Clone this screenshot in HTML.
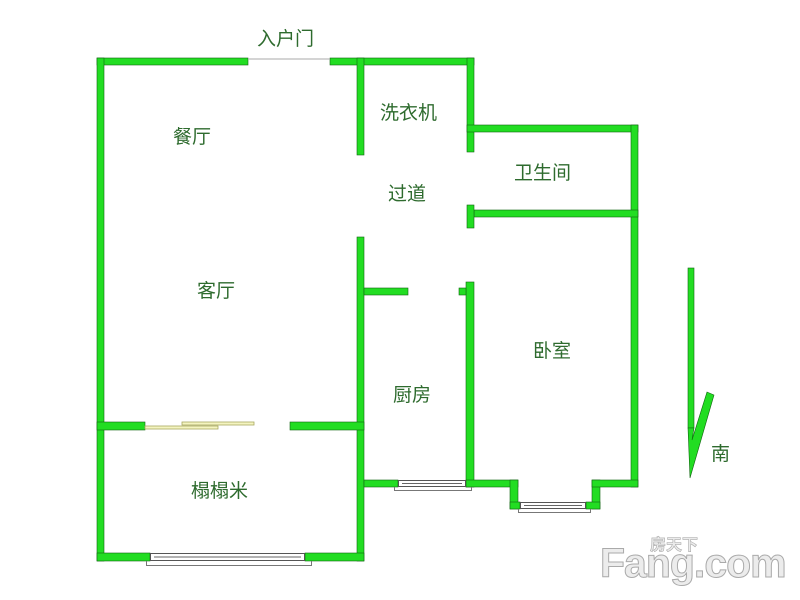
<!DOCTYPE html>
<html><head><meta charset="utf-8"><style>
body{margin:0;background:#fff;}
svg{display:block}
text{font-family:"Liberation Sans","Noto Sans CJK SC",sans-serif;font-size:19px;fill:#2e6b2e;}
</style></head><body>
<svg width="800" height="600" viewBox="0 0 800 600" xmlns="http://www.w3.org/2000/svg">
<g fill="#22dd22" stroke="#116611" stroke-width="0.6">
<rect x="97" y="58" width="151" height="7"/>
<rect x="330" y="58" width="144" height="7"/>
<rect x="97" y="58" width="7" height="503"/>
<rect x="467" y="58" width="7" height="94"/>
<rect x="357" y="58" width="7" height="97"/>
<rect x="467" y="125" width="171" height="7"/>
<rect x="631" y="125" width="7" height="362"/>
<rect x="474" y="210" width="164" height="7"/>
<rect x="467" y="205" width="7" height="23"/>
<rect x="357" y="237" width="7" height="324"/>
<rect x="364" y="288" width="44" height="7"/>
<rect x="466" y="282" width="8" height="205"/>
<rect x="459" y="288" width="7" height="7"/>
<rect x="97" y="422" width="48" height="8"/>
<rect x="290" y="422" width="74" height="8"/>
<rect x="97" y="553" width="53" height="8"/>
<rect x="305" y="553" width="59" height="8"/>
<rect x="364" y="480" width="34" height="7"/>
<rect x="466" y="480" width="52" height="7"/>
<rect x="510" y="480" width="8" height="29"/>
<rect x="510" y="502" width="10" height="7"/>
<rect x="592" y="480" width="8" height="29"/>
<rect x="586" y="502" width="14" height="7"/>
<rect x="592" y="480" width="46" height="7"/>
<rect x="688" y="268" width="6" height="160"/>
<polygon points="688,428 694,428 692,440 707,392 714,395 690,478"/>
</g>
<line x1="248" y1="59" x2="330" y2="59" stroke="#aaa" stroke-width="1"/>
<g fill="#f4f4c0" stroke="#a8a860" stroke-width="0.8">
<rect x="145" y="426" width="73" height="3"/>
<rect x="182" y="422" width="72" height="3"/>
</g>
<g fill="#fff" stroke="#555" stroke-width="1">
<rect x="150.5" y="553.5" width="154" height="7"/>
<rect x="398.5" y="480.5" width="67" height="6"/>
<rect x="520.5" y="502.5" width="65" height="6"/>
</g>
<g stroke="#666" stroke-width="1">
<line x1="154" y1="557" x2="301" y2="557"/>
<line x1="402" y1="483.5" x2="462" y2="483.5"/>
<line x1="524" y1="505.5" x2="582" y2="505.5"/>
</g>
<g stroke="#777" stroke-width="1" fill="none">
<polyline points="146.5,561 146.5,565.5 311.5,565.5 311.5,561"/>
<polyline points="394.5,487 394.5,490.5 471.5,490.5 471.5,487"/>
<polyline points="518.5,509 518.5,512.5 590.5,512.5 590.5,509"/>
</g>
<text x="257" y="45">入户门</text>
<text x="173" y="143">餐厅</text>
<text x="380" y="119">洗衣机</text>
<text x="388" y="200">过道</text>
<text x="514" y="179">卫生间</text>
<text x="197" y="297">客厅</text>
<text x="533" y="357">卧室</text>
<text x="393" y="401">厨房</text>
<text x="191" y="497">榻榻米</text>
<text x="711" y="460">南</text>
<text x="600" y="577" style="font-size:41px;font-weight:bold;fill:#ececec;stroke:#aaa;stroke-width:1;letter-spacing:-1px">Fang.com</text>
<text x="650" y="550" style="font-size:16px;font-weight:bold;fill:#ececec;stroke:#aaa;stroke-width:0.6">房天下</text>
</svg>
</body></html>
